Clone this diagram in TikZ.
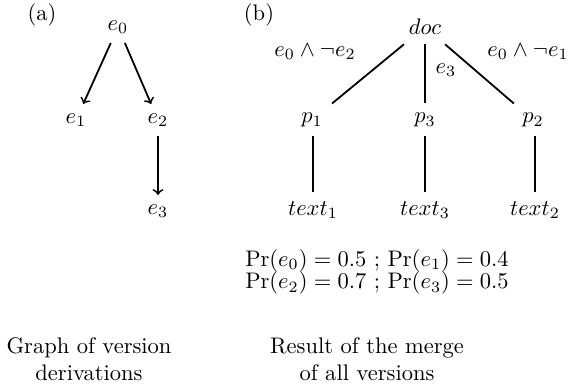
\documentclass[tikz,border=0pt]{standalone}
\usepackage{amsmath,amssymb}
\usepackage{tikz}
\usetikzlibrary{arrows,positioning}

\begin{document}
\begin{tikzpicture}[x=0.444pt, y=-0.444pt,
    vers/.style={inner sep=4pt},
    elem/.style={inner sep=4pt},
    deriv/.style={->, thick},
    edge/.style={thick},
    cond/.style={inner sep=1pt},
    caption/.style={align=center}
]
\useasboundingbox (0,0) rectangle (575,385);

% (a) version graph
\node (lbla) at (42,15) {(a)};
\node[vers] (e0) at (118,27) {$e_0$};
\node[vers] (e1) at (76,120) {$e_1$};
\node[vers] (e2) at (158,120) {$e_2$};
\node[vers] (e3) at (158,211) {$e_3$};
\draw[deriv] (e0) -- (e1);
\draw[deriv] (e0) -- (e2);
\draw[deriv] (e2) -- (e3);

% (b) merged document
\node (lblb) at (259,15) {(b)};
\node[elem] (doc) at (425,27) {$doc$};
\node[elem] (p1) at (312,120) {$p_1$};
\node[elem] (p3) at (425,120) {$p_3$};
\node[elem] (p2) at (533,120) {$p_2$};
\node[elem] (t1) at (313,210) {$text_1$};
\node[elem] (t3) at (425,210) {$text_3$};
\node[elem] (t2) at (535,210) {$text_2$};
\draw[edge] (doc) -- (p1);
\draw[edge] (doc) -- (p3);
\draw[edge] (doc) -- (p2);
\draw[edge] (p1.south -| t1) -- (t1);
\draw[edge] (p3) -- (t3);
\draw[edge] (p2.south -| t2) -- (t2);
\node[cond] (c1) at (315,52) {$e_0 \wedge \neg e_2$};
\node[cond] (c3) at (446,70) {$e_3$};
\node[cond] (c2) at (528,52) {$e_0 \wedge \neg e_1$};

\node[align=center] (prob) at (377,272) {$\Pr(e_0) = 0.5$ ; $\Pr(e_1) = 0.4$\\[-2pt] $\Pr(e_2) = 0.7$ ; $\Pr(e_3) = 0.5$};

% captions
\node[caption] (capa) at (89,359) {Graph of version\\derivations};
\node[caption] (capb) at (367,359) {Result of the merge\\of all versions};

\end{tikzpicture}
\end{document}
